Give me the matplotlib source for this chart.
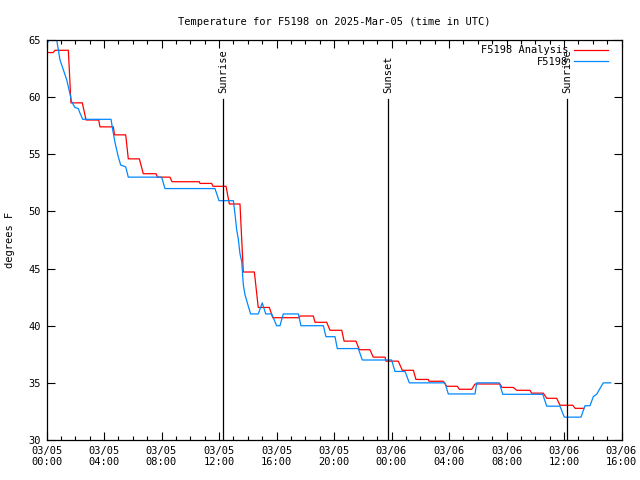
import numpy as np
import matplotlib
matplotlib.use("Agg")
from matplotlib import pyplot as plt
from matplotlib.ticker import MultipleLocator

# hours since 03/05 00:00 UTC
red_t = [0.0, 0.47, 0.59, 1.52, 1.70, 2.49, 2.75, 3.63, 3.72, 4.65, 4.73, 5.51, 5.69,
         6.46, 6.73, 7.62, 7.72, 8.59, 8.73, 10.63, 10.68, 11.49, 11.58, 12.49, 12.72,
         13.46, 13.69, 14.46, 14.73, 15.50, 15.74, 17.59, 17.63, 18.56, 18.68, 19.49, 19.72,
         20.54, 20.70, 21.53, 21.76, 22.50, 22.73, 23.55, 23.62, 24.47, 24.75, 25.52, 25.70,
         26.56, 26.61, 27.60, 27.84, 28.58, 28.72, 29.58, 29.81, 31.55, 31.69, 32.47, 32.71,
         33.63, 33.75, 34.56, 34.80, 35.49, 35.72, 36.61, 36.77, 37.39]
red_v = [63.9, 63.9, 64.1, 64.1, 59.5, 59.5, 58.0, 58.0, 57.4, 57.4, 56.7, 56.7, 54.6,
         54.6, 53.3, 53.3, 53.0, 53.0, 52.6, 52.6, 52.45, 52.45, 52.2, 52.2, 50.65,
         50.65, 44.7, 44.7, 41.6, 41.6, 40.7, 40.7, 40.85, 40.85, 40.3, 40.3, 39.6,
         39.6, 38.65, 38.65, 37.9, 37.9, 37.25, 37.25, 36.9, 36.9, 36.1, 36.1, 35.3,
         35.3, 35.14, 35.14, 34.7, 34.7, 34.44, 34.44, 34.9, 34.9, 34.6, 34.6, 34.35,
         34.35, 34.1, 34.1, 33.65, 33.65, 33.04, 33.04, 32.77, 32.77]

blue_t = [0.0, 0.24, 0.45, 0.71, 0.94, 1.17, 1.41, 1.63, 1.75, 1.98, 2.21, 2.33, 2.52,
          4.49, 4.61, 4.77, 4.99, 5.16, 5.51, 5.69, 8.01, 8.24, 11.72, 12.0, 13.0,
          13.11, 13.23, 13.34, 13.46, 13.58, 13.69, 13.81, 14.04, 14.2, 14.73, 15.01,
          15.25, 15.67, 16.01, 16.24, 16.47, 17.52, 17.7, 19.26, 19.44, 20.07, 20.23,
          21.69, 21.97, 24.01, 24.24, 24.94, 25.24, 27.72, 27.95, 29.81, 29.93, 31.5,
          31.74, 34.52, 34.8, 35.72, 36.02, 37.18, 37.46, 37.81, 38.04, 38.27, 38.5,
          38.73, 39.25]
blue_v = [64.5, 65.3, 65.6, 65.0, 63.25, 62.4, 61.5, 60.3, 59.6, 59.1, 59.0, 58.6, 58.06,
          58.06, 57.1, 56.0, 54.8, 54.06, 53.9, 53.0, 53.0, 52.0, 52.0, 50.94, 50.94,
          49.8, 48.4, 47.6, 46.3, 45.6, 43.6, 42.7, 41.7, 41.03, 41.03, 42.0,
          41.03, 41.03, 40.0, 40.0, 41.03, 41.03, 40.0, 40.0, 39.04, 39.04, 38.0,
          38.0, 37.0, 37.0, 36.0, 36.0, 35.0, 35.0, 34.03, 34.03, 35.0, 35.0,
          34.0, 34.0, 32.96, 32.96, 32.0, 32.0, 33.0, 33.0, 33.8, 34.0, 34.5,
          35.0, 35.0]

sun_t = [12.30, 23.74, 36.23]
sun_lbl = ["Sunrise", "Sunset", "Sunrise"]

xtick_pos = [0, 4, 8, 12, 16, 20, 24, 28, 32, 36, 40]
xtick_lbl = ["03/05\n00:00", "03/05\n04:00", "03/05\n08:00", "03/05\n12:00",
             "03/05\n16:00", "03/05\n20:00", "03/06\n00:00", "03/06\n04:00",
             "03/06\n08:00", "03/06\n12:00", "03/06\n16:00"]

plt.rcParams['font.family'] = ['DejaVu Sans Mono']
plt.rcParams['font.size'] = 7

fig = plt.figure(figsize=(6.4, 4.8), dpi=100)
ax = fig.add_axes([46.5/640, 40/480, 575/640, 400/480])

ax.plot(red_t, red_v, color='#ff0000', lw=0.9, label='F5198 Analysis')
ax.plot(blue_t, blue_v, color='#0088ff', lw=0.9, label='F5198')

for t, s in zip(sun_t, sun_lbl):
    ax.plot([t, t], [30, 59.8], color='black', lw=0.9)
    ax.text(t, 60.4, s, rotation=90, ha='center', va='bottom', fontsize=7.5)

ax.set_xlim(0, 40)
ax.set_ylim(30, 65)
ax.set_xticks(xtick_pos)
ax.set_xticklabels(xtick_lbl)
ax.xaxis.set_minor_locator(MultipleLocator(1))
ax.set_yticks(range(30, 66, 5))
ax.tick_params(which='both', direction='in', top=True, right=True, labelsize=7.5, pad=4)
ax.tick_params(which='major', length=6, width=0.8)
ax.tick_params(which='minor', length=3, width=0.8)
for sp in ax.spines.values():
    sp.set_linewidth(0.9)

ax.set_ylabel('degrees F', fontsize=7.5, labelpad=10)
ax.set_title('Temperature for F5198 on 2025-Mar-05 (time in UTC)', fontsize=7.5, pad=11)

leg = ax.legend(loc='upper right', frameon=False, markerfirst=False, fontsize=7.5,
                handlelength=3.2, handletextpad=0.6, labelspacing=0.15,
                borderaxespad=0.1, bbox_to_anchor=(0.985, 1.0))
for t in leg.get_texts():
    t.set_ha('right')

fig.savefig('out.png', dpi=100)
